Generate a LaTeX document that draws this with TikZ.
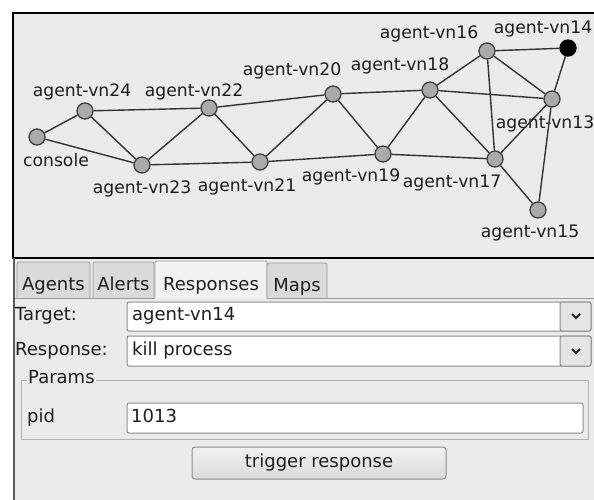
\documentclass[tikz,border=0pt]{standalone}
\usepackage{fontspec}
\setmainfont{DejaVu Sans}
\definecolor{panelbg}{RGB}{235,235,235}
\definecolor{nodefill}{RGB}{170,170,170}
\definecolor{tabfill}{RGB}{218,218,218}
\definecolor{tabsel}{RGB}{242,242,242}
\definecolor{fieldline}{RGB}{140,140,140}
\definecolor{txt}{RGB}{30,30,30}
\begin{document}
\begin{tikzpicture}[x=1pt,y=-1pt,
  agent/.style={circle,draw=black!75,fill=nodefill,line width=1.3pt,minimum size=16pt,inner sep=0pt},
  hot/.style={agent,fill=black,draw=black},
  lbl/.style={font=\fontsize{17.2}{19}\selectfont,text=txt,inner sep=0pt},
  gui/.style={font=\fontsize{18}{20}\selectfont,text=txt,inner sep=0pt},
  link/.style={draw=black!80,line width=1.4pt},
  field/.style={draw=fieldline,fill=white,line width=1pt,rounded corners=2pt},
  tabbox/.style={draw=black!40,fill=tabfill,line width=0.8pt,rounded corners=2pt},
  chev/.style={draw=black!85,line width=1.8pt}]
\useasboundingbox (0,0) rectangle (594,500);
\clip (0,0) rectangle (594,500);
\fill[white] (0,0) rectangle (594,500);
% top graph panel
\draw[line width=1.5pt,fill=panelbg] (13,13) rectangle (600,258);
% labels
\node[lbl] (lconsole) at (56,160) {console};
\node[lbl] (l24) at (82,92) {agent-vn24};
\node[lbl] (l22) at (194,92) {agent-vn22};
\node[lbl] (l23) at (142,189) {agent-vn23};
\node[lbl] (l21) at (247,187) {agent-vn21};
\node[lbl] (l20) at (292,71) {agent-vn20};
\node[lbl] (l18) at (400,66) {agent-vn18};
\node[lbl] (l16) at (429,34) {agent-vn16};
\node[lbl] (l14) at (543,29) {agent-vn14};
\node[lbl] (l13) at (545,124) {agent-vn13};
\node[lbl] (l19) at (351,177) {agent-vn19};
\node[lbl] (l17) at (452,183) {agent-vn17};
\node[lbl] (l15) at (530,233) {agent-vn15};
% nodes
\node[agent] (console) at (37,137) {};
\node[agent] (v24) at (85,111) {};
\node[agent] (v22) at (209,108) {};
\node[agent] (v23) at (142,165) {};
\node[agent] (v21) at (260,162) {};
\node[agent] (v20) at (333,94) {};
\node[agent] (v18) at (430,90) {};
\node[agent] (v16) at (487,51) {};
\node[hot] (v14) at (568,48) {};
\node[agent] (v13) at (552,99) {};
\node[agent] (v19) at (383,154) {};
\node[agent] (v17) at (495,159) {};
\node[agent] (v15) at (538,210) {};
% edges
\draw[link] (console) -- (v24);
\draw[link] (console) -- (v23);
\draw[link] (v24) -- (v22);
\draw[link] (v24) -- (v23);
\draw[link] (v23) -- (v22);
\draw[link] (v23) -- (v21);
\draw[link] (v22) -- (v20);
\draw[link] (v22) -- (v21);
\draw[link] (v21) -- (v20);
\draw[link] (v21) -- (v19);
\draw[link] (v20) -- (v18);
\draw[link] (v20) -- (v19);
\draw[link] (v19) -- (v18);
\draw[link] (v19) -- (v17);
\draw[link] (v18) -- (v16);
\draw[link] (v18) -- (v13);
\draw[link] (v18) -- (v17);
\draw[link] (v16) -- (v14);
\draw[link] (v16) -- (v13);
\draw[link] (v16) -- (v17);
\draw[link] (v14) -- (v13);
\draw[link] (v13) -- (v17);
\draw[link] (v13) -- (v15);
\draw[link] (v17) -- (v15);
% bottom panel
\fill[panelbg] (14,259) rectangle (600,500);
\draw[black!65,line width=2pt] (14,258) -- (14,500);
% tabs
\draw[tabbox] (17,298) -- (17,262) -- (90,262) -- (90,298);
\draw[tabbox] (93,298) -- (93,262) -- (154,262) -- (154,298);
\draw[tabbox,fill=tabsel] (155,298) -- (155,261) -- (267,261) -- (267,298);
\draw[tabbox] (267,298) -- (267,263) -- (327,263) -- (327,298);
\draw[black!40,line width=0.8pt] (15,298) -- (155,298);
\draw[black!40,line width=0.8pt] (267,298) -- (600,298);
\node[gui,anchor=base] (tagents) at (53.5,290) {Agents};
\node[gui,anchor=base] (talerts) at (123.5,290) {Alerts};
\node[gui,anchor=base] (tresp) at (211,290) {Responses};
\node[gui,anchor=base] (tmaps) at (297,291) {Maps};
% target row
\node[gui,anchor=mid west] (ltarget) at (15,318) {Target:};
\draw[field] (127,302) rectangle (591,331);
\draw[fieldline,fill=tabfill!70!white,line width=1pt,rounded corners=2pt] (560,302) rectangle (591,331);
\node[gui,anchor=mid west] (vtarget) at (132,318) {agent-vn14};
\draw[chev] (572,314) -- (576,318) -- (580,314);
% response row
\node[gui,anchor=mid west] (lresp) at (15,353) {Response:};
\draw[field] (127,336) rectangle (591,366);
\draw[fieldline,fill=tabfill!70!white,line width=1pt,rounded corners=2pt] (560,336) rectangle (591,366);
\node[gui,anchor=mid west] (vresp) at (132,353) {kill process};
\draw[chev] (572,349) -- (576,353) -- (580,349);
% params group
\draw[black!30,line width=1pt] (21,380) rectangle (588,439);
\node[gui,anchor=mid west,fill=panelbg,inner xsep=1pt] (lparams) at (27,381) {Params};
\node[gui,anchor=mid west] (lpid) at (27,420) {pid};
\draw[field] (127,403) rectangle (583,433);
\node[gui,anchor=mid west] (vpid) at (131,420) {1013};
% button
\draw[fieldline,top color=tabsel,bottom color=tabfill,line width=1pt,rounded corners=3pt] (192,447) rectangle (446,479);
\node[gui] (btn) at (319,463) {trigger response};
\end{tikzpicture}
\end{document}
